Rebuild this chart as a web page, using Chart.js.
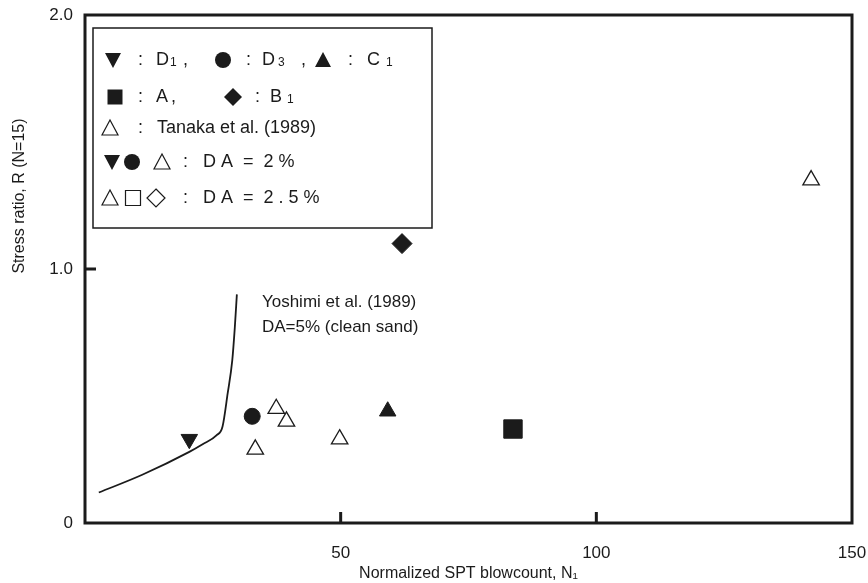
<!DOCTYPE html>
<html>
<head>
<meta charset="utf-8">
<script src="https://cdn.jsdelivr.net/npm/chart.js@4/dist/chart.umd.min.js"></script>
<style>
  body { margin: 0; background: #fff; }
  #wrap { width: 868px; height: 583px; }
</style>
</head>
<body>
<div id="wrap"><canvas id="chart" width="868" height="583"></canvas></div>
<script>
// test data (N1, R)
const d1N = [20.4], d1R = [0.33];
const d3N = [32.7], d3R = [0.42];
const c1N = [59.2], c1R = [0.44];
const aN = [83.7], aR = [0.37];
const b1N = [62.0], b1R = [1.10];
const tanakaN = [37.4, 39.4, 33.3, 49.8, 142.0];
const tanakaR = [0.45, 0.40, 0.29, 0.33, 1.35];

// Yoshimi et al. (1989) curve, DA=5% clean sand
const curveN = [2.7, 11.2, 20.4, 23.0, 25.7, 26.9, 27.9, 28.8, 29.3, 29.7];
const curveR = [0.12, 0.19, 0.28, 0.31, 0.345, 0.38, 0.51, 0.64, 0.77, 0.90];

const xTicks = [50, 100, 150];
const yTicks = [0, 1.0, 2.0];

const FONT = '"Liberation Sans", Arial, sans-serif';
const INK = '#1b1b1b';

function pts(xs, ys) {
    return xs.map((x, i) => ({ x: x, y: ys[i] }));
}

function marker(label, xs, ys, style, radius, extra) {
    return Object.assign({
        label: label,
        data: pts(xs, ys),
        pointStyle: style,
        pointRadius: radius,
        pointHoverRadius: radius,
        backgroundColor: INK,
        borderColor: INK,
        borderWidth: 1,
        showLine: false
    }, extra || {});
}

// small shapes for the hand made legend box
function shape(ctx, type, x, y, filled) {
    ctx.beginPath();
    if (type === 'down') {
        ctx.moveTo(x - 8, y - 7); ctx.lineTo(x + 8, y - 7); ctx.lineTo(x, y + 8);
    } else if (type === 'up') {
        ctx.moveTo(x - 8, y + 7); ctx.lineTo(x + 8, y + 7); ctx.lineTo(x, y - 8);
    } else if (type === 'circle') {
        ctx.arc(x, y, 8, 0, Math.PI * 2);
    } else if (type === 'square') {
        ctx.rect(x - 7.5, y - 7.5, 15, 15);
    } else if (type === 'diamond') {
        ctx.moveTo(x, y - 9); ctx.lineTo(x + 9, y); ctx.lineTo(x, y + 9); ctx.lineTo(x - 9, y);
    }
    ctx.closePath();
    if (filled) {
        ctx.fillStyle = INK;
        ctx.fill();
    } else {
        ctx.lineWidth = 1.2;
        ctx.strokeStyle = INK;
        ctx.stroke();
    }
}

function text(ctx, s, x, y, size) {
    ctx.font = (size || 18) + 'px ' + FONT;
    ctx.fillStyle = INK;
    ctx.textAlign = 'left';
    ctx.textBaseline = 'middle';
    ctx.fillText(s, x, y);
}

function sub(ctx, s, x, y) {
    text(ctx, s, x, y + 3, 12);
}

const framePlugin = {
    id: 'frame',
    afterDraw(chart) {
        const ctx = chart.ctx;
        const a = chart.chartArea;
        const xs = chart.scales.x, ys = chart.scales.y;
        ctx.save();

        // box round the plot
        ctx.strokeStyle = INK;
        ctx.lineWidth = 3;
        ctx.strokeRect(a.left, a.top, a.right - a.left, a.bottom - a.top);

        // inward ticks
        ctx.lineWidth = 3;
        ctx.beginPath();
        [50, 100].forEach(v => {
            const px = xs.getPixelForValue(v);
            ctx.moveTo(px, a.bottom); ctx.lineTo(px, a.bottom - 11);
        });
        const py = ys.getPixelForValue(1.0);
        ctx.moveTo(a.left, py); ctx.lineTo(a.left + 11, py);
        ctx.stroke();

        // y title
        ctx.save();
        ctx.translate(20, 196);
        ctx.rotate(-Math.PI / 2);
        ctx.font = '16px ' + FONT;
        ctx.fillStyle = INK;
        ctx.textAlign = 'center';
        ctx.textBaseline = 'middle';
        ctx.fillText('Stress ratio, R (N=15)', 0, 0);
        ctx.restore();

        // curve note
        const nx = xs.getPixelForValue(34.6);
        text(ctx, 'Yoshimi et al. (1989)', nx, ys.getPixelForValue(0.87), 17);
        text(ctx, 'DA=5% (clean sand)', nx, ys.getPixelForValue(0.77), 17);

        // legend box
        const L = a.left + 8, T = a.top + 13;
        ctx.lineWidth = 1.5;
        ctx.strokeStyle = INK;
        ctx.fillStyle = '#fff';
        ctx.fillRect(L, T, 339, 200);
        ctx.strokeRect(L, T, 339, 200);

        let y = T + 32;
        shape(ctx, 'down', L + 20, y, true);
        text(ctx, ':', L + 45, y);
        text(ctx, 'D', L + 63, y); sub(ctx, '1', L + 77, y);
        text(ctx, ',', L + 90, y);
        shape(ctx, 'circle', L + 130, y, true);
        text(ctx, ':', L + 153, y);
        text(ctx, 'D', L + 169, y); sub(ctx, '3', L + 185, y);
        text(ctx, ',', L + 208, y);
        shape(ctx, 'up', L + 230, y, true);
        text(ctx, ':', L + 255, y);
        text(ctx, 'C', L + 274, y); sub(ctx, '1', L + 293, y);

        y = T + 69;
        shape(ctx, 'square', L + 22, y, true);
        text(ctx, ':', L + 45, y);
        text(ctx, 'A', L + 63, y);
        text(ctx, ',', L + 78, y);
        shape(ctx, 'diamond', L + 140, y, true);
        text(ctx, ':', L + 162, y);
        text(ctx, 'B', L + 177, y); sub(ctx, '1', L + 194, y);

        y = T + 100;
        shape(ctx, 'up', L + 17, y, false);
        text(ctx, ':', L + 45, y);
        text(ctx, 'Tanaka et al. (1989)', L + 64, y);

        y = T + 134;
        shape(ctx, 'down', L + 19, y, true);
        shape(ctx, 'circle', L + 39, y, true);
        shape(ctx, 'up', L + 69, y, false);
        text(ctx, ':', L + 90, y);
        text(ctx, 'D A  =  2 %', L + 110, y);

        y = T + 170;
        shape(ctx, 'up', L + 17, y, false);
        shape(ctx, 'square', L + 40, y, false);
        shape(ctx, 'diamond', L + 63, y, false);
        text(ctx, ':', L + 90, y);
        text(ctx, 'D A  =  2 . 5 %', L + 110, y);

        ctx.restore();
    }
};

new Chart(document.getElementById('chart'), {
    type: 'scatter',
    data: {
        datasets: [
            {
                label: 'Yoshimi et al. (1989)',
                data: pts(curveN, curveR),
                showLine: true,
                borderColor: INK,
                borderWidth: 1.8,
                pointRadius: 0,
                cubicInterpolationMode: 'monotone',
                fill: false
            },
            marker('D1', d1N, d1R, 'triangle', 9.5, { pointRotation: 180 }),
            marker('D3', d3N, d3R, 'circle', 8),
            marker('C1', c1N, c1R, 'triangle', 9.5),
            marker('A', aN, aR, 'rect', 13),
            marker('B1', b1N, b1R, 'rectRot', 10),
            marker('Tanaka et al. (1989)', tanakaN, tanakaR, 'triangle', 9.5,
                { backgroundColor: '#fff', borderWidth: 1.3 })
        ]
    },
    options: {
        responsive: false,
        animation: false,
        layout: { padding: { left: 0, top: 15, right: 16, bottom: 0 } },
        plugins: {
            legend: { display: false },
            tooltip: { enabled: false }
        },
        scales: {
            x: {
                type: 'linear',
                min: 0,
                max: 150,
                afterBuildTicks: s => { s.ticks = [0].concat(xTicks).map(v => ({ value: v })); },
                afterFit: s => { s.height = 60; s.paddingLeft = 0; s.paddingRight = 0; },
                grid: { display: false, drawTicks: false },
                border: { display: false },
                ticks: {
                    padding: 20,
                    color: INK,
                    font: { family: FONT, size: 17 },
                    maxRotation: 0,
                    callback: v => v === 0 ? '' : String(v)
                },
                title: {
                    display: true,
                    text: 'Normalized SPT blowcount, N\u2081',
                    color: INK,
                    font: { family: FONT, size: 16 },
                    padding: { top: 0, bottom: 0 }
                }
            },
            y: {
                type: 'linear',
                min: 0,
                max: 2,
                afterBuildTicks: s => { s.ticks = yTicks.map(v => ({ value: v })); },
                afterFit: s => { s.width = 85; s.paddingTop = 0; s.paddingBottom = 0; },
                grid: { display: false, drawTicks: false },
                border: { display: false },
                ticks: {
                    padding: 12,
                    color: INK,
                    font: { family: FONT, size: 17 },
                    callback: v => v === 0 ? '0' : v.toFixed(1)
                }
            }
        }
    },
    plugins: [framePlugin]
});
</script>
</body>
</html>
